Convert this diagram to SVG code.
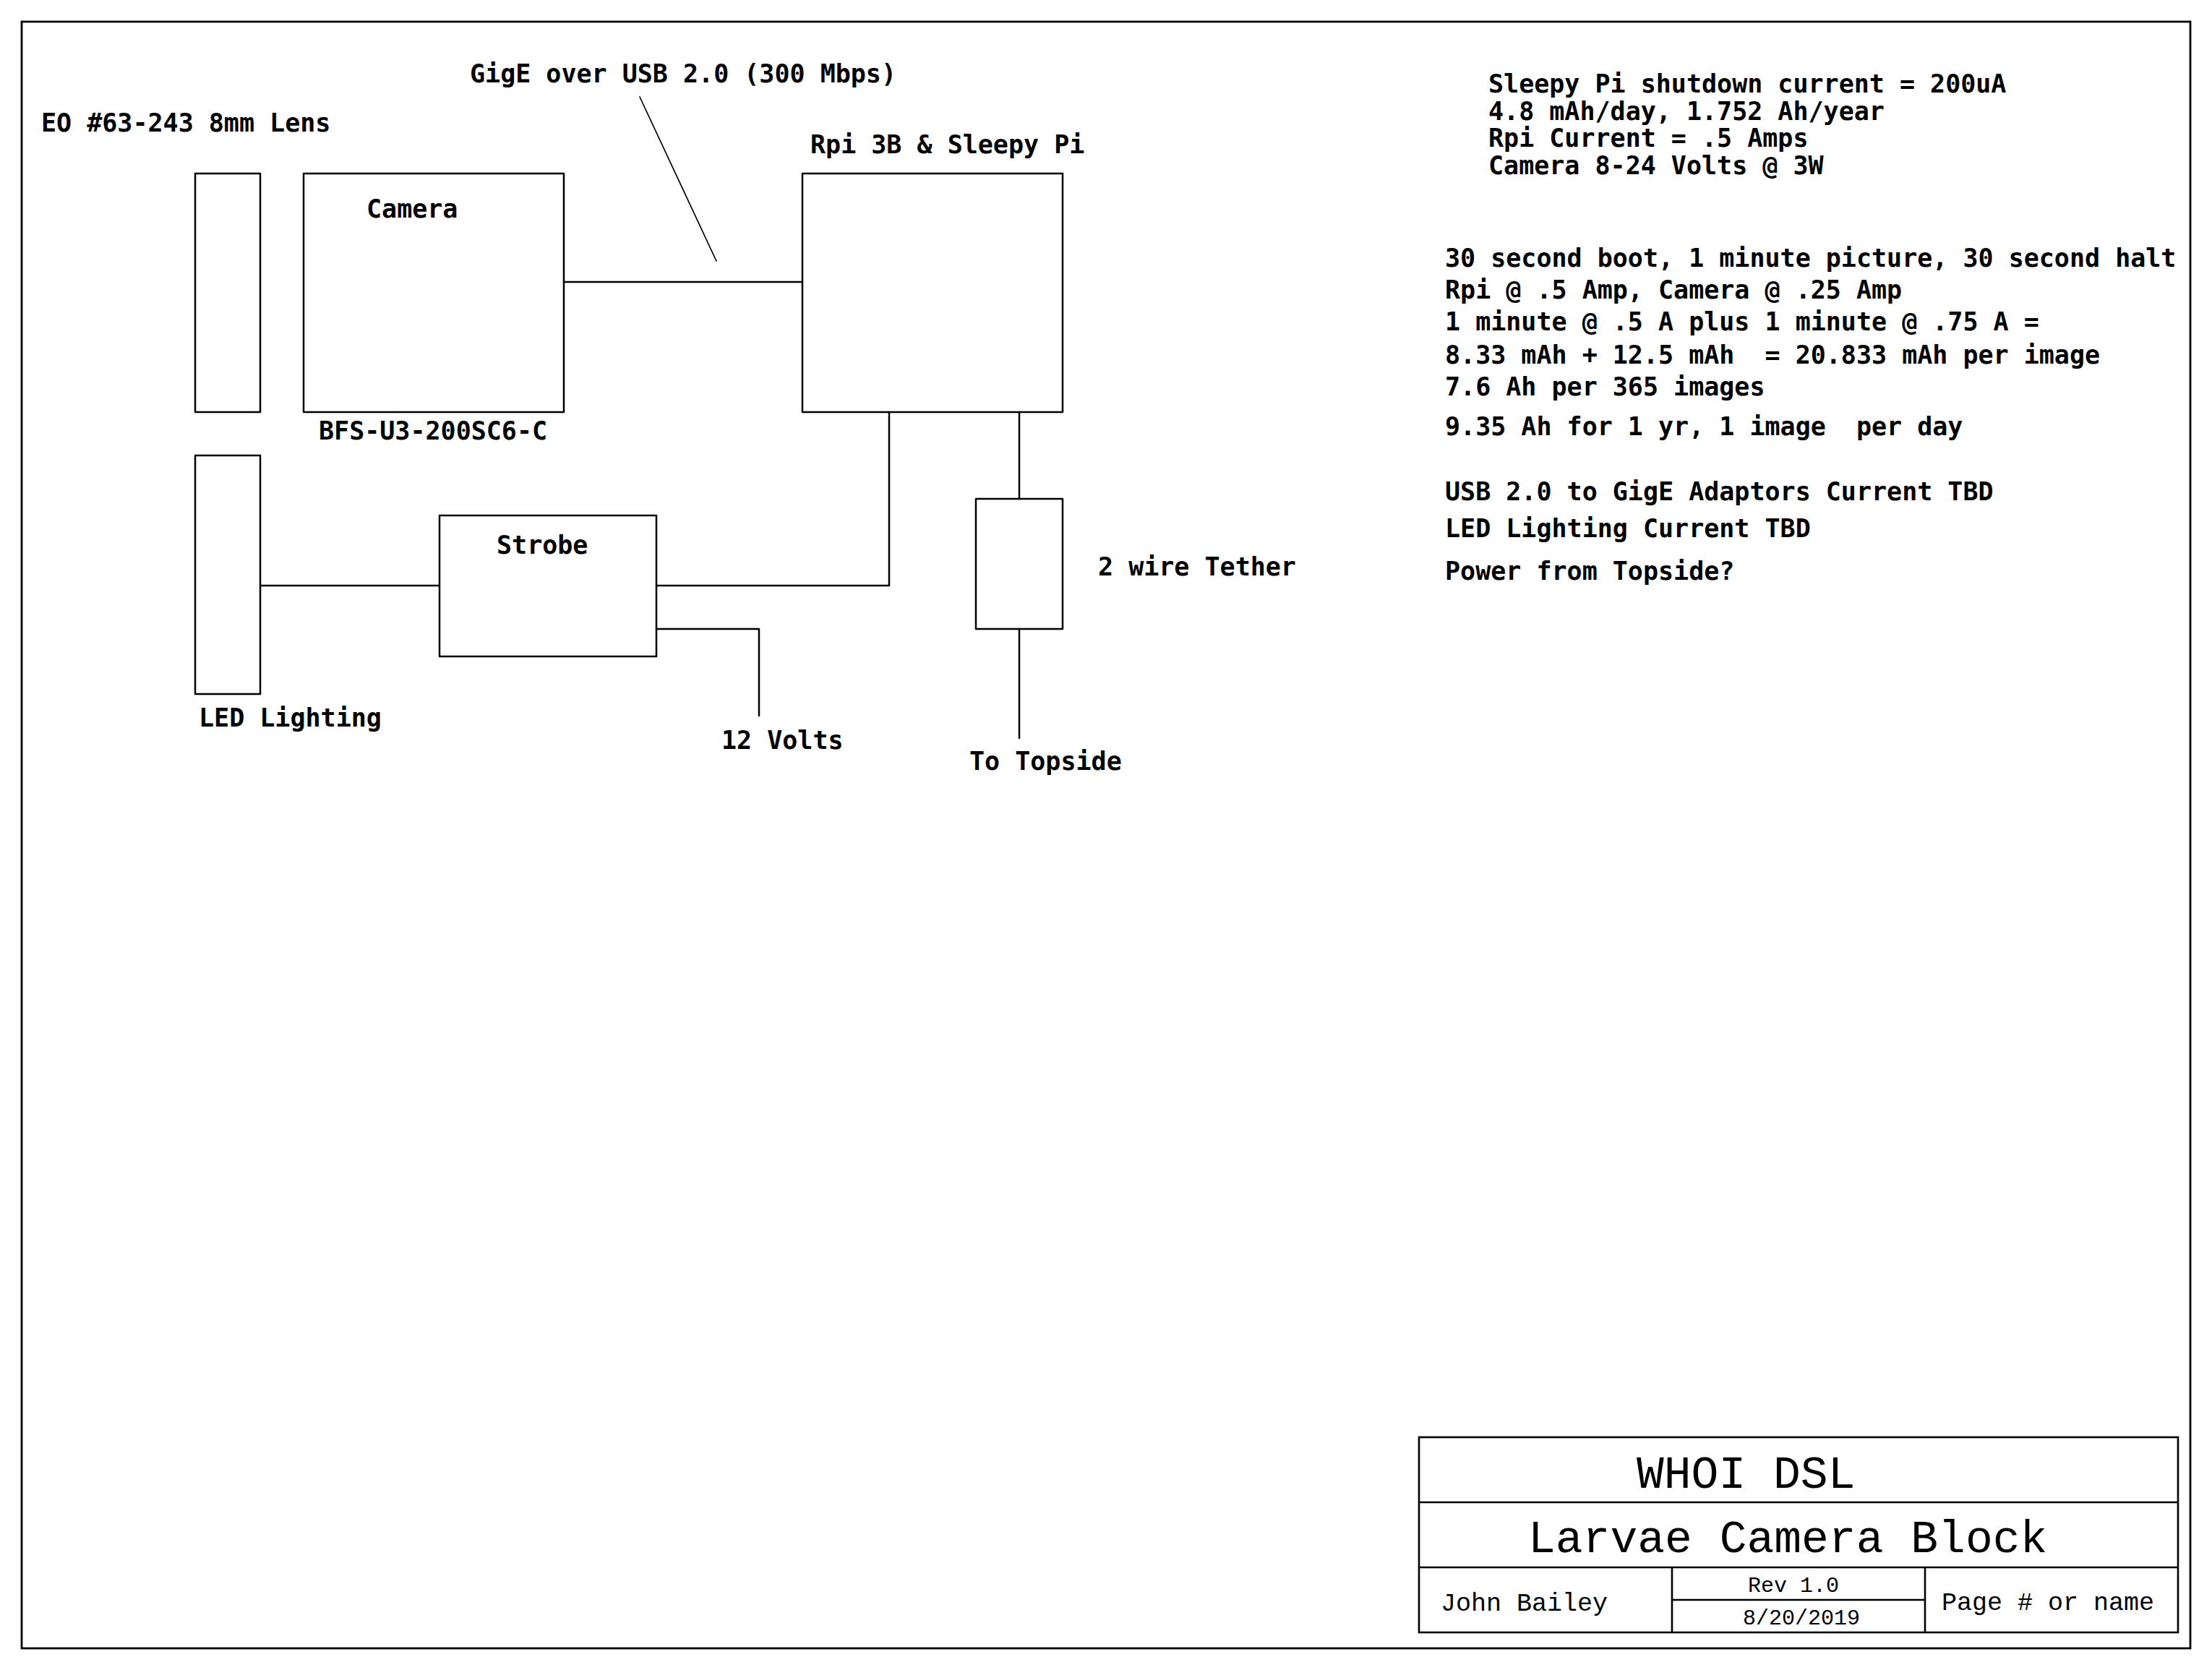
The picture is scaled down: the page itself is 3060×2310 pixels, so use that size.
<svg xmlns="http://www.w3.org/2000/svg" width="3060" height="2310" viewBox="0 0 3060 2310">
<style>
.box{fill:none;stroke:#000;stroke-width:2.5;stroke-linejoin:round}
.wire{fill:none;stroke:#000;stroke-width:2.5;stroke-linecap:round;stroke-linejoin:round}
.thin{fill:none;stroke:#000;stroke-width:1.7;stroke-linecap:round}
.lbl{font-family:"DejaVu Sans Mono","Liberation Mono",monospace;font-weight:bold;font-size:35px;fill:#000;white-space:pre}
.tb{font-family:"Liberation Mono","DejaVu Sans Mono",monospace;font-size:35px;fill:#000;white-space:pre}
.tbl{fill:none;stroke:#000;stroke-width:2.6}
</style>
<rect x="0" y="0" width="3060" height="2310" fill="#fff"/>
<rect id="border" x="30" y="30" width="3000" height="2250" fill="none" stroke="#000" stroke-width="2.8"/>

<g id="connectors">
<line class="wire" x1="780" y1="390" x2="1110" y2="390"/>
<line class="thin" x1="885" y1="134" x2="991" y2="361"/>
<polyline class="wire" points="908,810 1230,810 1230,570"/>
<line class="wire" x1="1410" y1="570" x2="1410" y2="690"/>
<line class="wire" x1="1410" y1="870" x2="1410" y2="1021"/>
<line class="wire" x1="360" y1="810" x2="608" y2="810"/>
<polyline class="wire" points="908,870 1050,870 1050,990"/>
</g>

<g id="lens">
<rect class="box" x="270" y="240" width="90" height="330"/>
<text class="lbl" x="57" y="182">EO #63-243 8mm Lens</text>
</g>
<g id="camera">
<rect class="box" x="420" y="240" width="360" height="330"/>
<text class="lbl" x="507" y="301">Camera</text>
<text class="lbl" x="441" y="608">BFS-U3-200SC6-C</text>
</g>
<g id="gige-label">
<text class="lbl" x="650" y="114">GigE over USB 2.0 (300 Mbps)</text>
</g>
<g id="rpi">
<rect class="box" x="1110" y="240" width="360" height="330"/>
<text class="lbl" x="1121" y="212">Rpi 3B &amp; Sleepy Pi</text>
</g>
<g id="led">
<rect class="box" x="270" y="630" width="90" height="330"/>
<text class="lbl" x="275" y="1005">LED Lighting</text>
</g>
<g id="strobe">
<rect class="box" x="608" y="713" width="300" height="195"/>
<text class="lbl" x="687" y="766">Strobe</text>
</g>
<g id="volts">
<text class="lbl" x="998" y="1036">12 Volts</text>
</g>
<g id="tether">
<rect class="box" x="1350" y="690" width="120" height="180"/>
<text class="lbl" x="1519" y="796">2 wire Tether</text>
</g>
<g id="topside">
<text class="lbl" x="1341" y="1065">To Topside</text>
</g>

<g id="notes">
<text class="lbl" x="2059" y="128">Sleepy Pi shutdown current = 200uA</text>
<text class="lbl" x="2059" y="166">4.8 mAh/day, 1.752 Ah/year</text>
<text class="lbl" x="2059" y="203">Rpi Current = .5 Amps</text>
<text class="lbl" x="2059" y="241">Camera 8-24 Volts @ 3W</text>
<text class="lbl" x="1999" y="369">30 second boot, 1 minute picture, 30 second halt</text>
<text class="lbl" x="1999" y="413">Rpi @ .5 Amp, Camera @ .25 Amp</text>
<text class="lbl" x="1999" y="457">1 minute @ .5 A plus 1 minute @ .75 A =</text>
<text class="lbl" x="1999" y="503" xml:space="preserve">8.33 mAh + 12.5 mAh  = 20.833 mAh per image</text>
<text class="lbl" x="1999" y="547">7.6 Ah per 365 images</text>
<text class="lbl" x="1999" y="602" xml:space="preserve">9.35 Ah for 1 yr, 1 image  per day</text>
<text class="lbl" x="1999" y="692">USB 2.0 to GigE Adaptors Current TBD</text>
<text class="lbl" x="1999" y="743">LED Lighting Current TBD</text>
<text class="lbl" x="1999" y="802">Power from Topside?</text>
</g>

<g id="title-block">
<rect class="tbl" x="1963" y="1988" width="1050" height="270"/>
<line class="tbl" x1="1963" y1="2078" x2="3013" y2="2078"/>
<line class="tbl" x1="1963" y1="2168" x2="3013" y2="2168"/>
<line class="tbl" x1="2313" y1="2168" x2="2313" y2="2258"/>
<line class="tbl" x1="2663" y1="2168" x2="2663" y2="2258"/>
<line class="tbl" x1="2313" y1="2213" x2="2663" y2="2213"/>
<text class="tb" x="2264" y="2058" style="font-size:63px">WHOI DSL</text>
<text class="tb" x="2114" y="2147" style="font-size:63px">Larvae Camera Block</text>
<text class="tb" x="1993" y="2228">John Bailey</text>
<text class="tb" x="2418" y="2202" style="font-size:30px">Rev 1.0</text>
<text class="tb" x="2411" y="2247" style="font-size:30px">8/20/2019</text>
<text class="tb" x="2686" y="2227">Page # or name</text>
</g>
</svg>
